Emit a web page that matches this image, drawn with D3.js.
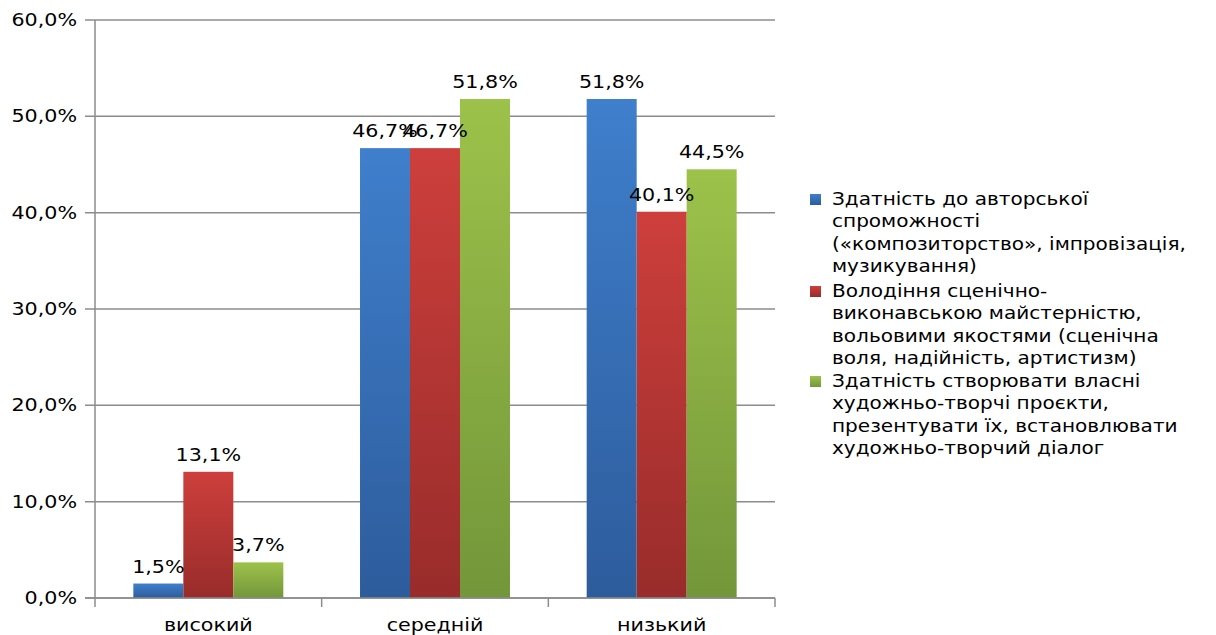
<!DOCTYPE html>
<html><head><meta charset="utf-8">
<script src="https://cdn.jsdelivr.net/npm/d3@7"></script>
<style>body{margin:0;background:#fff;} svg{display:block;} text{font-family:"DejaVu Sans",Verdana,sans-serif;fill:#000;}</style>
</head><body><svg id="c" width="1216" height="635"></svg>
<script>
const categories = ["високий", "середній", "низький"];
const seriesNames = [
  ["Здатність до авторської", "спроможності", "(«композиторство», імпровізація,", "музикування)"],
  ["Володіння сценічно-", "виконавською майстерністю,", "вольовими якостями (сценічна", "воля, надійність, артистизм)"],
  ["Здатність створювати власні", "художньо-творчі проєкти,", "презентувати їх, встановлювати", "художньо-творчий діалог"]
];
const series1 = [0.015, 0.467, 0.518];
const series2 = [0.131, 0.467, 0.401];
const series3 = [0.037, 0.518, 0.445];
const yTicks = [0, 0.1, 0.2, 0.3, 0.4, 0.5, 0.6];

const seriesValues = [series1, series2, series3];
const colors = [
  {top:"#3f7fcc", bottom:"#2d5c9c"},
  {top:"#cd3f3c", bottom:"#982c2a"},
  {top:"#9dc24a", bottom:"#73963a"}
];

const svg = d3.select("#c");
const pLeft = 95, pRight = 775, pTop = 20, pBottom = 598;
const fs = 17.5, sx = 1.18;
const tr = (x, yy) => `translate(${x},${yy}) scale(${sx},1)`;

const defs = svg.append("defs");
colors.forEach((c,i)=>{
  const g = defs.append("linearGradient").attr("id","g"+i).attr("x1",0).attr("y1",0).attr("x2",0).attr("y2",1);
  g.append("stop").attr("offset","0%").attr("stop-color",c.top);
  g.append("stop").attr("offset","100%").attr("stop-color",c.bottom);
});

const y = d3.scaleLinear().domain([0,0.6]).range([pBottom, pTop]);
const x0 = d3.scaleBand().domain(categories).range([pLeft, pRight]).padding(0);
const x1 = d3.scaleBand().domain(d3.range(3)).range([0, x0.bandwidth()]).paddingInner(0).paddingOuter(0.767);
const fmt = v => d3.format(".1f")(v*100).replace(".", ",") + "%";

// gridlines
svg.append("g").selectAll("line").data(yTicks).join("line")
  .attr("x1", pLeft-10).attr("x2", pRight).attr("y1", d=>y(d)).attr("y2", d=>y(d))
  .attr("stroke","#8c8c8c").attr("stroke-width",1.5);

// y tick labels
svg.append("g").selectAll("text").data(yTicks).join("text")
  .attr("transform", d=>tr(77, y(d))).attr("dy","0.35em").attr("text-anchor","end")
  .style("font-size", fs+"px").text(fmt);

// bars
const data = [];
categories.forEach((c,ci)=>seriesValues.forEach((s,si)=>data.push({c, si, v:s[ci]})));
svg.append("g").selectAll("rect").data(data).join("rect")
  .attr("x", d=>x0(d.c)+x1(d.si)).attr("width", x1.bandwidth())
  .attr("y", d=>y(d.v)).attr("height", d=>y(0)-y(d.v))
  .attr("fill", d=>"url(#g"+d.si+")");

// axes lines
svg.append("line").attr("x1",pLeft).attr("x2",pLeft).attr("y1",pTop).attr("y2",pBottom+9).attr("stroke","#8c8c8c").attr("stroke-width",1.5);
svg.append("line").attr("x1",pLeft-10).attr("x2",pRight).attr("y1",pBottom).attr("y2",pBottom).attr("stroke","#8c8c8c").attr("stroke-width",1.5);
const bounds = categories.map(c=>x0(c)+x0.bandwidth());
svg.append("g").selectAll("line").data(bounds).join("line")
  .attr("x1",d=>d).attr("x2",d=>d).attr("y1",pBottom).attr("y2",pBottom+9).attr("stroke","#8c8c8c").attr("stroke-width",1.5);

// category labels
svg.append("g").selectAll("text").data(categories).join("text")
  .attr("transform", c=>tr(x0(c)+x0.bandwidth()/2, 625)).attr("dy","0.35em").attr("text-anchor","middle")
  .style("font-size", fs+"px").text(c=>c);

// value labels
svg.append("g").selectAll("text").data(data).join("text")
  .attr("transform", d=>tr(x0(d.c)+x1(d.si)+x1.bandwidth()/2, y(d.v)-11))
  .attr("text-anchor","middle").style("font-size", fs+"px").text(d=>fmt(d.v));

// legend
const lg = svg.append("g");
const entryTops = [199, 291, 381];
seriesNames.forEach((lines,i)=>{
  lg.append("rect").attr("x",810).attr("y",entryTops[i]-5).attr("width",11).attr("height",11).attr("fill","url(#g"+i+")");
  lines.forEach((t,j)=>{
    lg.append("text").attr("transform", tr(832, entryTops[i]+j*22.5)).attr("dy","0.35em").style("font-size","17px").text(t);
  });
});
</script></body></html>
